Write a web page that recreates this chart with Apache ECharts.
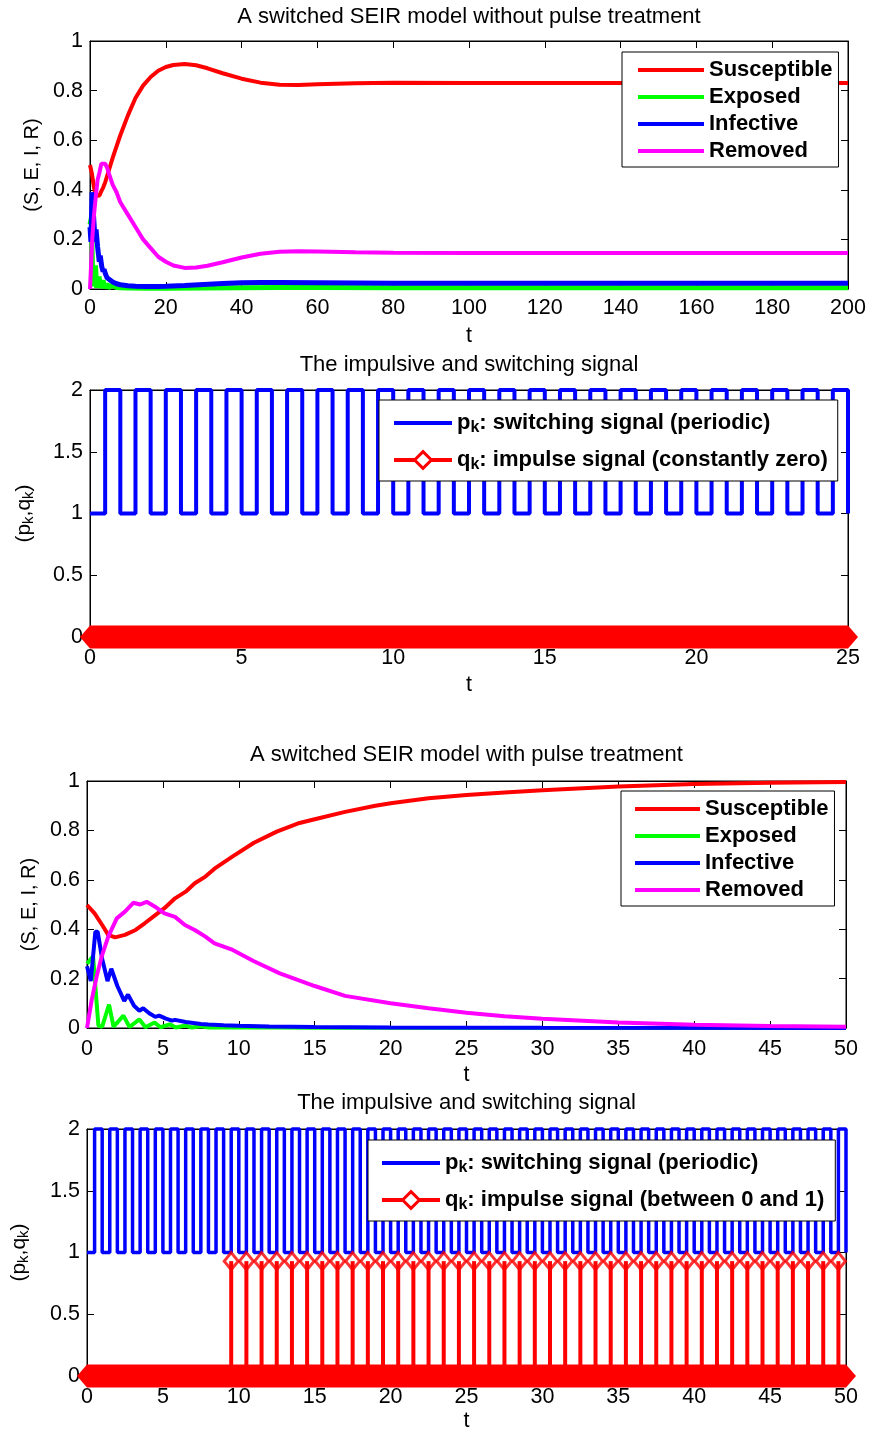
<!DOCTYPE html>
<html><head><meta charset="utf-8">
<script src="https://cdn.jsdelivr.net/npm/echarts@6/dist/echarts.min.js"></script>
<style>html,body{margin:0;padding:0;background:#fff}#c{width:871px;height:1431px}</style>
</head><body><div id="c"></div>
<script>
// ---------- Panel 1: switched SEIR model without pulse treatment ----------
const tS1 = [0,0.5,1,1.5,2,2.5,3,3.5,4,5,6,7,8,10,12,14,16,18,20,22,25,28,31,35,40,45,50,55,60,70,80,100,120,150,200];
const S1  = [0.50,0.465,0.415,0.375,0.367,0.377,0.395,0.41,0.43,0.48,0.53,0.575,0.62,0.70,0.77,0.82,0.855,0.88,0.895,0.903,0.907,0.902,0.89,0.87,0.848,0.832,0.824,0.823,0.826,0.830,0.832,0.831,0.831,0.831,0.831];
const tE1 = [0,0.4,0.75,1,1.45,1.75,2.4,2.8,3.45,3.85,4.45,4.85,5.5,6,7,8,10,15,20,30,40,50,60,80,100,200];
const E1  = [0.26,0.29,0.01,0.005,0.095,0.005,0.05,0.004,0.035,0.003,0.022,0.003,0.015,0.008,0.006,0.005,0.004,0.003,0.003,0.004,0.005,0.006,0.006,0.005,0.005,0.005];
const tI1 = [0,0.25,0.55,0.7,1,1.35,1.6,2,2.45,2.7,3.1,3.45,3.7,4.1,4.5,5,6,7,8,10,12,15,18,20,25,30,35,40,45,50,60,70,80,100,150,200];
const I1  = [0.25,0.19,0.39,0.39,0.28,0.19,0.24,0.17,0.11,0.135,0.09,0.07,0.08,0.06,0.045,0.038,0.028,0.021,0.017,0.013,0.011,0.01,0.01,0.011,0.014,0.018,0.022,0.025,0.026,0.026,0.025,0.024,0.023,0.023,0.023,0.023];
const tR1 = [0,0.3,0.6,1,1.5,2,2.5,3,3.5,4,4.5,5,6,7,8,10,12,14,16,18,20,22,25,28,31,35,40,45,50,55,60,70,80,100,150,200];
const R1  = [0,0.1,0.2,0.29,0.37,0.44,0.47,0.505,0.507,0.505,0.49,0.465,0.42,0.39,0.35,0.30,0.25,0.20,0.165,0.13,0.11,0.095,0.085,0.087,0.094,0.108,0.127,0.142,0.15,0.152,0.151,0.148,0.146,0.145,0.145,0.145];

// ---------- Panel 2: switching / impulse signal (0..25) ----------
// p_k level on each half-unit interval [0.5*i, 0.5*(i+1))
const pk2Levels = [1,2,1,2,1,2,1,2,1,2, 1,2,1,2,1,2,1,2,1,2, 1,2,1,2,1,2,1,2,1,2, 1,2,1,2,1,2,1,2,1,2, 1,2,1,2,1,2,1,2,1,2];
const pk2End = [25, 1];
const qk2Zero = [[0,0],[25,0]];

// ---------- Panel 3: switched SEIR model with pulse treatment ----------
const tS3 = [0,0.5,1,1.4,1.85,2.5,3.2,3.8,4.5,5.1,5.8,6.5,7.1,7.8,8.4,9.6,11,12.5,14,15,17,19,20,22.5,25,27.5,30,35,40,45,50];
const S3  = [0.498,0.464,0.417,0.377,0.367,0.377,0.397,0.424,0.457,0.485,0.525,0.552,0.586,0.613,0.645,0.695,0.75,0.795,0.83,0.845,0.875,0.90,0.91,0.93,0.943,0.953,0.963,0.978,0.988,0.993,0.996];
const tE3 = [0,0.4,0.75,1.0,1.45,1.75,2.4,2.8,3.45,3.85,4.45,4.85,5.45,5.85,6.5,6.9,7.5,8,10,15,50];
const E3  = [0.26,0.29,0.01,0.005,0.095,0.005,0.05,0.004,0.035,0.003,0.022,0.003,0.015,0.002,0.01,0.002,0.007,0.002,0.003,0.001,0];
const tI3 = [0,0.25,0.55,0.7,1.0,1.35,1.6,2.0,2.45,2.7,3.1,3.45,3.7,4.1,4.5,4.75,5.2,5.6,5.8,6.5,7,7.5,8,9,10,12,15,20,30,50];
const I3  = [0.25,0.19,0.39,0.39,0.28,0.19,0.24,0.17,0.11,0.135,0.09,0.07,0.08,0.06,0.045,0.05,0.038,0.03,0.033,0.024,0.02,0.016,0.014,0.011,0.009,0.006,0.004,0.002,0.001,0.0005];
const tR3 = [0,0.3,0.64,0.97,1.4,1.96,2.5,3.05,3.5,3.93,4.48,5.1,5.8,6.45,7.1,7.8,8.4,9.6,11,12.7,15,17,20,22.5,25,27.5,30,35,40,45,50];
const R3  = [0,0.11,0.21,0.29,0.37,0.444,0.471,0.507,0.50,0.511,0.491,0.464,0.45,0.417,0.397,0.37,0.343,0.316,0.27,0.221,0.17,0.13,0.10,0.08,0.062,0.048,0.037,0.022,0.013,0.008,0.005];

// ---------- Panel 4: switching / impulse signal (0..50) ----------
const pk4Levels = [1,2,1,2,1,2,1,2,1,2, 1,2,1,2,1,2,1,2,1,2, 1,2,1,2,1,2,1,2,1,2, 1,2,1,2,1,2,1,2,1,2, 1,2,1,2,1,2,1,2,1,2,
                   1,2,1,2,1,2,1,2,1,2, 1,2,1,2,1,2,1,2,1,2, 1,2,1,2,1,2,1,2,1,2, 1,2,1,2,1,2,1,2,1,2, 1,2,1,2,1,2,1,2,1,2];
const pk4End = [50, 1];
const qk4Times = [9.5,10.5,11.5,12.5,13.5,14.5,15.5,16.5,17.5,18.5,19.5,20.5,21.5,22.5,23.5,24.5,25.5,26.5,27.5,28.5,29.5,30.5,31.5,32.5,33.5,34.5,35.5,36.5,37.5,38.5,39.5,40.5,41.5,42.5,43.5,44.5,45.5,46.5,47.5,48.5,49.5];
const qk4Values = [0.93,0.93,0.93,0.93,0.93,0.93,0.93,0.93,0.93,0.93,0.93,0.93,0.93,0.93,0.93,0.93,0.93,0.93,0.93,0.93,0.93,0.93,0.93,0.93,0.93,0.93,0.93,0.93,0.93,0.93,0.93,0.93,0.93,0.93,0.93,0.93,0.93,0.93,0.93,0.93,0.93];
const qk4Zero = [[0,0],[50,0]];

// ---------- text ----------
const titles = ['A switched SEIR model without pulse treatment','The impulsive and switching signal','A switched SEIR model with pulse treatment','The impulsive and switching signal'];
const seirNames = ['Susceptible','Exposed','Infective','Removed'];
const pName = 'p_k: switching signal (periodic)';
const qName2 = 'q_k: impulse signal (constantly zero)';
const qName4 = 'q_k: impulse signal (between 0 and 1)';

const FONT = '"Liberation Sans", Arial, Helvetica, sans-serif';
const RED = '#ff0000', GREEN = '#00ff00', BLUE = '#0000ff', MAG = '#ff00ff';

function zip(t, v) { return t.map((x, i) => [x, v[i]]); }
function stepData(levels, step, end) {
  const d = levels.map((v, i) => [i * step, v]);
  d.push(end);
  return d;
}

const grids = [
  {left: 90, top: 41, width: 758, height: 248},
  {left: 90, top: 390, width: 758, height: 247},
  {left: 87, top: 781, width: 759, height: 247},
  {left: 87, top: 1129, width: 759, height: 247}
];
const xr = [[0,200,20],[0,25,5],[0,50,5],[0,50,5]];
const yr = [[0,1,0.2],[0,2,0.5],[0,1,0.2],[0,2,0.5]];
const yNames = ['(S, E, I, R)', '{a|(p}{s|k}{a|,q}{s|k}{a|)}', '(S, E, I, R)', '{a|(p}{s|k}{a|,q}{s|k}{a|)}'];
const yGaps = [48, 54, 46, 56];
const xGaps = [36, 37, 36, 34];
const xMargins = [8, 10, 10, 10];

const xAxis = [], yAxis = [];
for (let i = 0; i < 4; i++) {
  xAxis.push({
    type: 'value', gridIndex: i, min: xr[i][0], max: xr[i][1], interval: xr[i][2],
    axisLine: {show: true, onZero: false, lineStyle: {color: '#000', width: 1}},
    axisTick: {show: true, inside: true, length: 7, lineStyle: {color: '#000'}},
    axisLabel: {color: '#000', fontSize: 21.5, fontFamily: FONT, margin: xMargins[i]},
    splitLine: {show: false},
    name: 't', nameLocation: 'middle', nameGap: xGaps[i],
    nameTextStyle: {color: '#000', fontSize: 21.5, fontFamily: FONT}
  });
  yAxis.push({
    type: 'value', gridIndex: i, min: yr[i][0], max: yr[i][1], interval: yr[i][2],
    axisLine: {show: true, onZero: false, lineStyle: {color: '#000', width: 1}},
    axisTick: {show: true, inside: true, length: 7, lineStyle: {color: '#000'}},
    axisLabel: {color: '#000', fontSize: 21.5, fontFamily: FONT, margin: 7},
    splitLine: {show: false},
    name: yNames[i], nameLocation: 'middle', nameRotate: 90, nameGap: yGaps[i],
    nameTextStyle: {color: '#000', fontSize: 20, fontFamily: FONT,
      rich: {a: {fontSize: 21, fontFamily: FONT, color: '#000', lineHeight: 24},
             s: {fontSize: 15, fontFamily: FONT, color: '#000', lineHeight: 6, verticalAlign: 'bottom'}}}
  });
}
for (let i = 0; i < 4; i++) {
  xAxis.push({
    type: 'value', gridIndex: i, position: 'top', min: xr[i][0], max: xr[i][1], interval: xr[i][2],
    axisLine: {show: true, onZero: false, lineStyle: {color: '#000', width: 1}},
    axisTick: {show: true, inside: true, length: 7, lineStyle: {color: '#000'}},
    axisLabel: {show: false}, splitLine: {show: false}
  });
  yAxis.push({
    type: 'value', gridIndex: i, position: 'right', min: yr[i][0], max: yr[i][1], interval: yr[i][2],
    axisLine: {show: true, onZero: false, lineStyle: {color: '#000', width: 1}},
    axisTick: {show: true, inside: true, length: 7, lineStyle: {color: '#000'}},
    axisLabel: {show: false}, splitLine: {show: false}
  });
}

function lineS(name, data, color, width, gi) {
  return {type: 'line', name, data, xAxisIndex: gi, yAxisIndex: gi, symbol: 'none', showSymbol: false,
    lineStyle: {color, width}, itemStyle: {color}, clip: false, animation: false};
}

const series = [
  lineS(seirNames[0], zip(tS1, S1), RED, 4, 0),
  lineS(seirNames[1], zip(tE1, E1), GREEN, 5, 0),
  lineS(seirNames[2], zip(tI1, I1), BLUE, 5, 0),
  lineS(seirNames[3], zip(tR1, R1), MAG, 4, 0),

  Object.assign(lineS(pName, stepData(pk2Levels, 0.5, pk2End), BLUE, 4, 1), {step: 'end'}),
  {type: 'line', name: qName2, data: qk2Zero, xAxisIndex: 1, yAxisIndex: 1, symbol: 'diamond', showSymbol: true,
   symbolSize: [20, 23], lineStyle: {color: RED, width: 23}, itemStyle: {color: RED}, clip: false, animation: false},

  lineS(seirNames[0], zip(tS3, S3), RED, 4, 2),
  lineS(seirNames[1], zip(tE3, E3), GREEN, 4, 2),
  lineS(seirNames[2], zip(tI3, I3), BLUE, 4, 2),
  lineS(seirNames[3], zip(tR3, R3), MAG, 4, 2),

  Object.assign(lineS(pName, stepData(pk4Levels, 0.5, pk4End), BLUE, 3.5, 3), {step: 'end'}),
  {type: 'bar', name: 'qstem', data: zip(qk4Times, qk4Values), xAxisIndex: 3, yAxisIndex: 3, barWidth: 4,
   itemStyle: {color: RED}, animation: false, z: 3},
  {type: 'scatter', name: 'qmark', data: zip(qk4Times, qk4Values), xAxisIndex: 3, yAxisIndex: 3,
   symbol: 'diamond', symbolSize: [14, 17], itemStyle: {color: 'rgba(255,255,255,0)', borderColor: RED, borderWidth: 3},
   animation: false, z: 4},
  {type: 'line', name: qName4, data: qk4Zero, xAxisIndex: 3, yAxisIndex: 3, symbol: 'diamond', showSymbol: true,
   symbolSize: [20, 23], lineStyle: {color: RED, width: 23}, itemStyle: {color: RED}, clip: false, animation: false, z: 5}
];

const legendText = {fontSize: 22, fontWeight: 'bold', color: '#000', fontFamily: FONT};
const richLegend = {
  b: {fontSize: 22, fontWeight: 'bold', color: '#000', fontFamily: FONT, lineHeight: 26},
  s: {fontSize: 16, fontWeight: 'bold', color: '#000', fontFamily: FONT, lineHeight: 6, verticalAlign: 'bottom'}
};
function subFmt(name) { return '{b|' + name.charAt(0) + '}{s|k}{b|' + name.slice(3) + '}'; }
const legendBase = {orient: 'vertical', backgroundColor: '#fff', borderColor: '#000', borderWidth: 1,
  selectedMode: false, lineStyle: {width: 4}, z: 10};
const qIcon = {color: '#fff', borderColor: RED, borderWidth: 3, opacity: 1};
const noSym = {opacity: 0};
const seirLegendData = seirNames.map(n => ({name: n, itemStyle: noSym}));

const legend = [
  Object.assign({}, legendBase, {left: 622, top: 52, padding: [7, 6, 5, 14], itemGap: 5, itemWidth: 66, itemHeight: 21,
    textStyle: legendText, data: seirLegendData}),
  Object.assign({}, legendBase, {left: 379, top: 400, padding: [12, 10, 8, 13], itemGap: 13, itemWidth: 58, itemHeight: 21,
    textStyle: Object.assign({}, legendText, {rich: richLegend}), formatter: subFmt,
    data: [{name: pName, itemStyle: noSym}, {name: qName2, itemStyle: qIcon}]}),
  Object.assign({}, legendBase, {left: 621, top: 791, padding: [7, 6, 5, 12], itemGap: 5, itemWidth: 65, itemHeight: 21,
    textStyle: legendText, data: seirLegendData}),
  Object.assign({}, legendBase, {left: 368, top: 1140, padding: [12, 11, 8, 12], itemGap: 13, itemWidth: 58, itemHeight: 21,
    textStyle: Object.assign({}, legendText, {rich: richLegend}), formatter: subFmt,
    data: [{name: pName, itemStyle: noSym}, {name: qName4, itemStyle: qIcon}]})
];

const titleY = [17, 365, 755, 1103];
const graphic = titles.map((t, i) => ({
  type: 'text', x: grids[i].left + grids[i].width / 2, y: titleY[i],
  style: {text: t, fill: '#000', font: '22px ' + FONT, textAlign: 'center', textVerticalAlign: 'middle'}
}));

const chart = echarts.init(document.getElementById('c'));
chart.setOption({
  animation: false,
  backgroundColor: '#fff',
  textStyle: {fontFamily: FONT},
  grid: grids.map(g => Object.assign({show: true, borderColor: '#000', borderWidth: 1, backgroundColor: 'transparent',
    containLabel: false, outerBoundsMode: 'none'}, g)),
  xAxis, yAxis, series, legend, graphic
});
</script></body></html>
